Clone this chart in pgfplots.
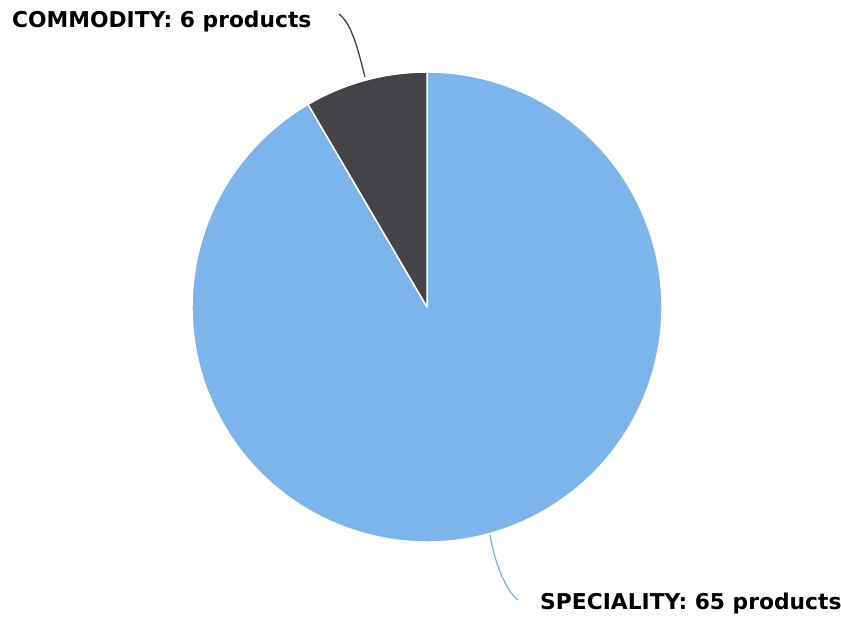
\documentclass[border=0pt]{standalone}
\usepackage{pgfplots}
\pgfplotsset{compat=1.18}
\usepackage{pgfplotstable}
\usepackage{fontspec}
\setmainfont{DejaVu Sans}
\definecolor{spec}{HTML}{7CB5EC}
\definecolor{comm}{HTML}{434348}
\pgfplotstableread{
name value
COMMODITY 6
SPECIALITY 65
}\piedata
\begin{document}
\begin{tikzpicture}
\pgfplotstablegetelem{0}{value}\of\piedata \let\vA\pgfplotsretval
\pgfplotstablegetelem{1}{value}\of\piedata \let\vB\pgfplotsretval
\pgfmathsetmacro{\tot}{\vA+\vB}
\pgfmathsetmacro{\aA}{90+360*\vA/\tot}
\useasboundingbox (0,0) rectangle (841pt,620pt);
\begin{axis}[at={(0,0)},anchor=south west,x=1pt,y=1pt,xmin=0,xmax=841,ymin=0,ymax=620,
  hide axis,clip=false,scale only axis]
\addplot[draw=none] coordinates {(0,0) (841,620)};
\filldraw[fill=spec,draw=white,line width=1.5pt,line join=round]
  (axis cs:427,313) -- ++(\aA:235pt) arc[start angle=\aA,end angle=450,radius=235pt] -- cycle;
\filldraw[fill=comm,draw=white,line width=1.5pt,line join=round]
  (axis cs:427,313) -- ++(90:235pt) arc[start angle=90,end angle=\aA,radius=235pt] -- cycle;
\draw[comm,line width=1.3pt] (axis cs:339,606) .. controls (axis cs:352,596) and (axis cs:358,570) .. (axis cs:365,543);
\draw[spec,line width=1.3pt] (axis cs:490,85) .. controls (axis cs:494,60) and (axis cs:505,30) .. (axis cs:518,20);
\node[anchor=west,inner sep=0pt,font=\fontsize{21.8}{24}\selectfont\bfseries] at (axis cs:12,599) {COMMODITY: 6 products};
\node[anchor=west,inner sep=0pt,font=\fontsize{21.8}{24}\selectfont\bfseries] at (axis cs:540,17) {SPECIALITY: 65 products};
\end{axis}
\end{tikzpicture}
\end{document}
